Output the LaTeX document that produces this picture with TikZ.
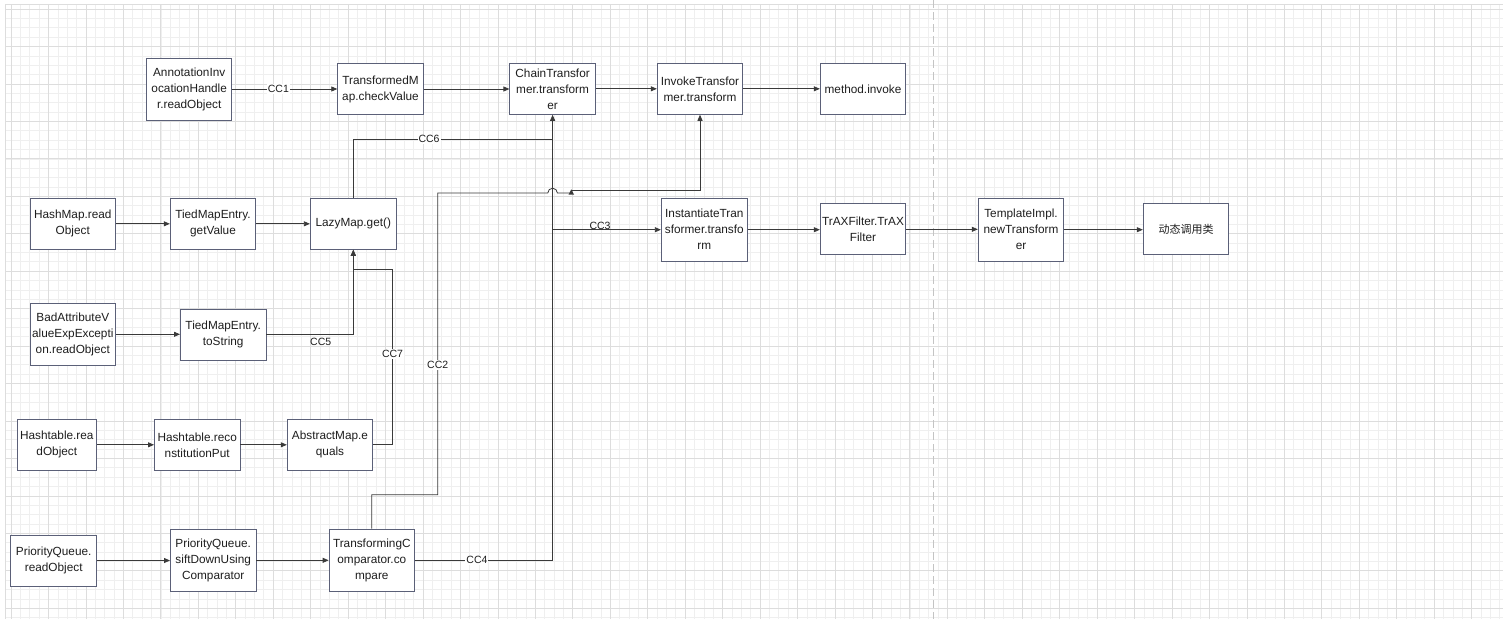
\documentclass[tikz,border=0pt]{standalone}
\usepackage{fontspec}
\setmainfont{Liberation Sans}
\newfontfamily\cjk{Noto Sans CJK SC}
\usetikzlibrary{arrows.meta}
\definecolor{boxc}{HTML}{5B6078}
\definecolor{edgec}{HTML}{3A3A3A}
\definecolor{txt}{HTML}{1E1E1E}
\definecolor{gminor}{HTML}{EFEFEF}
\definecolor{gmajor}{HTML}{DDDDDD}
\definecolor{pagec}{HTML}{C4C4C4}
\begin{document}
\begin{tikzpicture}[x=1pt,y=-1pt,
  box/.style={draw=boxc, line width=0.9pt, fill=white, inner sep=0pt, align=center,
    font=\fontsize{11.8}{16}\selectfont, text=txt},
  sbox/.style={box, minimum width=85.5pt, minimum height=51pt},
  tbox/.style={box, minimum width=85.5pt, minimum height=62.5pt},
  conn/.style={draw=edgec, line width=0.8pt},
  arr/.style={conn, -{Triangle[length=6pt,width=5pt]}},
  lbl/.style={fill=white, inner sep=1pt, font=\fontsize{10.5}{12}\selectfont, text=txt},
  plbl/.style={inner sep=0pt, font=\fontsize{10.5}{12}\selectfont, text=txt},
  gmin/.style={draw=gminor, line width=0.6pt},
  gmaj/.style={draw=gmajor, line width=0.7pt}
]
\useasboundingbox (0,0) rectangle (1503,619);
\fill[white] (0,0) rectangle (1503,619);
% grid
\foreach \i in {0,...,159} \draw[gmin] ({11+\i*9.3625},4) -- ({11+\i*9.3625},619);
\foreach \j in {0,...,65} \draw[gmin] (5,{9+\j*9.3625}) -- (1503,{9+\j*9.3625});
\foreach \i in {0,...,39} \draw[gmaj] ({11+\i*37.45},4) -- ({11+\i*37.45},619);
\foreach \j in {0,...,16} \draw[gmaj] (5,{9+\j*37.45}) -- (1503,{9+\j*37.45});
\draw[gmaj] (5,4) -- (5,619);
\draw[gmaj] (5,4) -- (1503,4);
\draw[draw=pagec, line width=0.9pt, dash pattern=on 8pt off 4pt] (933.3,0) -- (933.3,619);

% nodes
\node[tbox, minimum width=85pt, minimum height=62.4pt] (ann) at (189.2,89.5) {AnnotationInv\\ocationHandle\\r.readObject};
\node[sbox] (tmap) at (380.5,89) {TransformedM\\ap.checkValue};
\node[sbox] (chain) at (552.6,88.8) {ChainTransfor\\mer.transform\\er};
\node[sbox] (invoke) at (700,88.8) {InvokeTransfor\\mer.transform};
\node[sbox] (minv) at (863,88.8) {method.invoke};
\node[sbox] (hashmap) at (72.8,223.8) {HashMap.read\\Object};
\node[sbox] (getval) at (213,223.8) {TiedMapEntry.\\getValue};
\node[sbox, minimum width=86pt] (lazy) at (353.3,223.8) {LazyMap.get()};
\node[tbox, minimum width=86pt] (inst) at (704.3,229.7) {InstantiateTran\\sformer.transfo\\rm};
\node[sbox] (trax) at (863,229.3) {TrAXFilter.TrAX\\Filter};
\node[tbox] (tmpl) at (1021,229.7) {TemplateImpl.\\newTransform\\er};
\node[sbox] (dyn) at (1186,229.3) {{\cjk\fontsize{11}{16}\selectfont 动态调用类}};
\node[tbox] (bad) at (72.8,334.3) {BadAttributeV\\alueExpExcepti\\on.readObject};
\node[sbox] (tostr) at (223.2,334.7) {TiedMapEntry.\\toString};
\node[sbox, minimum width=79.7pt] (htread) at (56.8,444.8) {Hashtable.rea\\dObject};
\node[sbox] (htput) at (197.2,444.8) {Hashtable.reco\\nstitutionPut};
\node[sbox] (ameq) at (330,444.8) {AbstractMap.e\\quals};
\node[sbox, minimum width=86pt] (pqread) at (53.7,560.5) {PriorityQueue.\\readObject};
\node[tbox] (sift) at (213.2,560.3) {PriorityQueue.\\siftDownUsing\\Comparator};
\node[tbox] (tcomp) at (371.8,560.3) {TransformingC\\omparator.co\\mpare};

% straight connectors
\draw[arr] (ann.east |- tmap.west) -- node[lbl, pos=0.44]{CC1} (tmap.west);
\draw[arr] (tmap.east) -- (tmap.east -| chain.west);
\draw[arr] (chain.east) -- (chain.east -| invoke.west);
\draw[arr] (invoke.east) -- (invoke.east -| minv.west);
\draw[arr] (hashmap.east) -- (getval.west);
\draw[arr] (getval.east) -- (lazy.west);
\draw[arr] (bad.east) -- (bad.east -| tostr.west);
\draw[arr] (htread.east) -- (htput.west);
\draw[arr] (htput.east) -- (ameq.west);
\draw[arr] (pqread.east) -- (pqread.east -| sift.west);
\draw[arr] (sift.east) -- (tcomp.west);
\draw[arr] (inst.east) -- (inst.east -| trax.west);
\draw[arr] (trax.east) -- (trax.east -| tmpl.west);
\draw[arr] (tmpl.east) -- (tmpl.east -| dyn.west);

% CC4: compare -> chain
\coordinate (v4) at (chain.south |- tcomp.east);
\draw[arr] (tcomp.east) -- node[lbl, pos=0.45]{CC4} (v4) -- (chain.south);
% CC6: lazy -> chain
\coordinate (c6) at (chain.south |- 0,139.3);
\draw[conn] (lazy.north) |- node[lbl, pos=0.69]{CC6} (c6);
% CC3
\coordinate (c3) at (chain.south |- inst.west);
\draw[arr] (c3) -- (inst.west);
\node[plbl, anchor=south] at (600,229.5) {CC3};
% CC5
\draw[arr] (tostr.east) -| (lazy.south);
\node[plbl] at (320.7,342) {CC5};
% CC7
\coordinate (c7) at (392.5,269.3);
\draw[arr] (ameq.east) -| (c7) -| (lazy.south);
\node[lbl] at (392.5,354) {CC7};
% CC2
\coordinate (c2a) at (437.7,494.7);
\coordinate (c2b) at (437.7,193);
\coordinate (tri) at (571.3,190);
\draw[conn] (tcomp.north) |- (c2a) -- (c2b) -- ([xshift=-4.8pt]chain.south |- c2b) arc[start angle=180, end angle=360, radius=4.8] -- (571.3,193);
\node[lbl] at (437.7,365) {CC2};
\fill[edgec] (568.5,194.7) -- (574.1,194.7) -- (571.3,189.3) -- cycle;
\draw[arr] (tri) -| (invoke.south);
\end{tikzpicture}
\end{document}
